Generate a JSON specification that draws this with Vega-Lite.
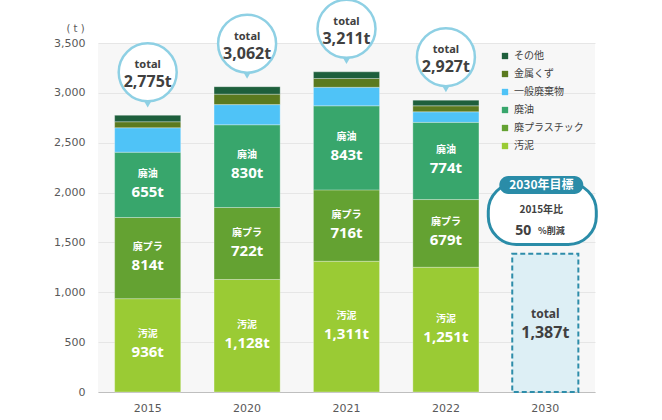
{
  "$schema": "https://vega.github.io/schema/vega-lite/v6.json",
  "autosize": {"type": "none"},
  "padding": {"left": 98, "top": 43, "right": 67, "bottom": 28},
  "width": 497,
  "height": 349,
  "background": "#ffffff",
  "view": {"fill": "#f7f7f7", "stroke": null},
  "config": {
    "font": "Noto Sans CJK JP",
    "axis": {"labelFont": "DejaVu Sans", "labelFontSize": 11, "labelColor": "#595959", "ticks": false}
  },
  "datasets": {
    "waste": [
      {"year": "2015", "cat": "汚泥", "v": 936, "lbl": "汚泥"},
      {"year": "2015", "cat": "廃プラスチック", "v": 814, "lbl": "廃プラ"},
      {"year": "2015", "cat": "廃油", "v": 655, "lbl": "廃油"},
      {"year": "2015", "cat": "一般廃棄物", "v": 245, "lbl": null},
      {"year": "2015", "cat": "金属くず", "v": 60, "lbl": null},
      {"year": "2015", "cat": "その他", "v": 65, "lbl": null},
      {"year": "2020", "cat": "汚泥", "v": 1128, "lbl": "汚泥"},
      {"year": "2020", "cat": "廃プラスチック", "v": 722, "lbl": "廃プラ"},
      {"year": "2020", "cat": "廃油", "v": 830, "lbl": "廃油"},
      {"year": "2020", "cat": "一般廃棄物", "v": 202, "lbl": null},
      {"year": "2020", "cat": "金属くず", "v": 105, "lbl": null},
      {"year": "2020", "cat": "その他", "v": 75, "lbl": null},
      {"year": "2021", "cat": "汚泥", "v": 1311, "lbl": "汚泥"},
      {"year": "2021", "cat": "廃プラスチック", "v": 716, "lbl": "廃プラ"},
      {"year": "2021", "cat": "廃油", "v": 843, "lbl": "廃油"},
      {"year": "2021", "cat": "一般廃棄物", "v": 186, "lbl": null},
      {"year": "2021", "cat": "金属くず", "v": 88, "lbl": null},
      {"year": "2021", "cat": "その他", "v": 67, "lbl": null},
      {"year": "2022", "cat": "汚泥", "v": 1251, "lbl": "汚泥"},
      {"year": "2022", "cat": "廃プラスチック", "v": 679, "lbl": "廃プラ"},
      {"year": "2022", "cat": "廃油", "v": 774, "lbl": "廃油"},
      {"year": "2022", "cat": "一般廃棄物", "v": 106, "lbl": null},
      {"year": "2022", "cat": "金属くず", "v": 60, "lbl": null},
      {"year": "2022", "cat": "その他", "v": 57, "lbl": null}
    ],
    "totals": [
      {"year": "2015", "total": 2775},
      {"year": "2020", "total": 3062},
      {"year": "2021", "total": 3211},
      {"year": "2022", "total": 2927}
    ],
    "target": [
      {"year": "2030", "total": 1387, "head": "2030年目標", "line1": "2015年比", "pct": "50", "unit": "%削減"}
    ]
  },
  "encoding": {
    "x": {
      "field": "year", "type": "nominal",
      "scale": {"domain": ["2015", "2020", "2021", "2022", "2030"], "paddingInner": 0.335, "paddingOuter": 0.1675},
      "axis": {"title": null, "labelAngle": 0, "labelPadding": 10, "domainColor": "#bfbfbf", "domainWidth": 1, "grid": false}
    }
  },
  "layer": [
    {
      "data": {"name": "waste"},
      "transform": [
        {"calculate": "indexof(['汚泥','廃プラスチック','廃油','一般廃棄物','金属くず','その他'], datum.cat)", "as": "o"},
        {"stack": "v", "groupby": ["year"], "sort": [{"field": "o", "order": "ascending"}], "as": ["y0", "y1"]}
      ],
      "mark": {"type": "bar", "stroke": "#ffffff", "strokeWidth": 0.6, "strokeOpacity": 0.5},
      "encoding": {
        "y": {
          "field": "y0", "type": "quantitative",
          "scale": {"domain": [0, 3500], "nice": false},
          "axis": {
            "values": [0, 500, 1000, 1500, 2000, 2500, 3000, 3500],
            "format": ",d",
            "domain": false,
            "labelPadding": 13,
            "gridColor": "#e6e6e6",
            "gridWidth": 1,
            "title": "( t )",
            "titleAngle": 0,
            "titleX": -23,
            "titleY": -15,
            "titleAlign": "center",
            "titleBaseline": "middle",
            "titleFont": "DejaVu Sans",
            "titleFontSize": 10,
            "titleFontWeight": "normal",
            "titleColor": "#595959"
          }
        },
        "y2": {"field": "y1"},
        "color": {
          "field": "cat", "type": "nominal",
          "scale": {
            "domain": ["その他", "金属くず", "一般廃棄物", "廃油", "廃プラスチック", "汚泥"],
            "range": ["#1e5f3c", "#5b7a1f", "#4fc3f7", "#38a66c", "#64a232", "#9acb34"]
          },
          "legend": {
            "title": null,
            "orient": "none",
            "legendX": 402,
            "legendY": 8,
            "symbolType": "square",
            "symbolSize": 40,
            "symbolStrokeWidth": 0,
            "labelFont": "Noto Sans CJK JP",
            "labelFontSize": 10,
            "labelColor": "#404040",
            "rowPadding": 8,
            "labelOffset": 4
          }
        }
      }
    },
    {
      "data": {"name": "waste"},
      "transform": [
        {"filter": "datum.lbl != null"},
        {"calculate": "indexof(['汚泥','廃プラスチック','廃油','一般廃棄物','金属くず','その他'], datum.cat)", "as": "o"},
        {"stack": "v", "groupby": ["year"], "sort": [{"field": "o", "order": "ascending"}], "as": ["y0", "y1"]},
        {"calculate": "(datum.y0 + datum.y1) / 2", "as": "mid"}
      ],
      "mark": {"type": "text", "dy": -11, "color": "#ffffff", "fontSize": 10, "fontWeight": "bold", "font": "Noto Sans CJK JP"},
      "encoding": {
        "y": {"field": "mid", "type": "quantitative"},
        "text": {"field": "lbl"}
      }
    },
    {
      "data": {"name": "waste"},
      "transform": [
        {"filter": "datum.lbl != null"},
        {"calculate": "indexof(['汚泥','廃プラスチック','廃油','一般廃棄物','金属くず','その他'], datum.cat)", "as": "o"},
        {"stack": "v", "groupby": ["year"], "sort": [{"field": "o", "order": "ascending"}], "as": ["y0", "y1"]},
        {"calculate": "(datum.y0 + datum.y1) / 2", "as": "mid"},
        {"calculate": "format(datum.v, ',') + 't'", "as": "vt"}
      ],
      "mark": {"type": "text", "dy": 7, "color": "#ffffff", "fontSize": 15, "fontWeight": "bold", "font": "Noto Sans"},
      "encoding": {
        "y": {"field": "mid", "type": "quantitative"},
        "text": {"field": "vt"}
      }
    },
    {
      "data": {"name": "target"},
      "mark": {"type": "bar", "fill": "#ddeff5", "stroke": "#2e8daa", "strokeWidth": 2, "strokeDash": [5, 3]},
      "encoding": {
        "y": {"field": "total", "type": "quantitative"},
        "y2": {"datum": 0}
      }
    },
    {
      "data": {"name": "target"},
      "transform": [{"calculate": "datum.total / 2", "as": "mid"}],
      "mark": {"type": "text", "dy": -9, "color": "#404040", "fontSize": 12, "fontWeight": "bold", "font": "Noto Sans", "text": "total"},
      "encoding": {"y": {"field": "mid", "type": "quantitative"}}
    },
    {
      "data": {"name": "target"},
      "transform": [
        {"calculate": "datum.total / 2", "as": "mid"},
        {"calculate": "format(datum.total, ',') + 't'", "as": "vt"}
      ],
      "mark": {"type": "text", "dy": 10, "color": "#404040", "fontSize": 16, "fontWeight": "bold", "font": "Noto Sans"},
      "encoding": {"y": {"field": "mid", "type": "quantitative"}, "text": {"field": "vt"}}
    },
    {
      "data": {"name": "totals"},
      "mark": {"type": "point", "shape": "triangle-down", "filled": true, "color": "#8ed0e4", "size": 90, "yOffset": -12, "opacity": 1},
      "encoding": {"y": {"field": "total", "type": "quantitative"}}
    },
    {
      "data": {"name": "totals"},
      "mark": {"type": "point", "shape": "circle", "filled": true, "fill": "#ffffff", "stroke": "#8ed0e4", "strokeWidth": 2.5, "size": 3364, "yOffset": -43, "opacity": 1},
      "encoding": {"y": {"field": "total", "type": "quantitative"}}
    },
    {
      "data": {"name": "totals"},
      "mark": {"type": "text", "dy": -50, "color": "#404040", "fontSize": 11, "fontWeight": "bold", "font": "Noto Sans", "text": "total"},
      "encoding": {"y": {"field": "total", "type": "quantitative"}}
    },
    {
      "data": {"name": "totals"},
      "transform": [{"calculate": "format(datum.total, ',') + 't'", "as": "vt"}],
      "mark": {"type": "text", "dy": -33, "color": "#404040", "fontSize": 16, "fontWeight": "bold", "font": "Noto Sans"},
      "encoding": {"y": {"field": "total", "type": "quantitative"}, "text": {"field": "vt"}}
    },
    {
      "data": {"name": "target"},
      "mark": {"type": "bar", "width": 108, "fill": "#ffffff", "stroke": "#2a8ca8", "strokeWidth": 3, "cornerRadius": 28, "xOffset": -3},
      "encoding": {"y": {"datum": 1480}, "y2": {"datum": 2095}}
    },
    {
      "data": {"name": "target"},
      "mark": {"type": "bar", "width": 84, "fill": "#2a8ca8", "cornerRadius": 9, "xOffset": -4},
      "encoding": {"y": {"datum": 1985}, "y2": {"datum": 2165}}
    },
    {
      "data": {"name": "target"},
      "mark": {"type": "text", "color": "#ffffff", "fontSize": 12, "fontWeight": "bold", "font": "Noto Sans CJK JP", "xOffset": -4},
      "encoding": {"y": {"datum": 2075}, "text": {"field": "head"}}
    },
    {
      "data": {"name": "target"},
      "mark": {"type": "text", "color": "#404040", "fontSize": 10, "fontWeight": "bold", "font": "Noto Sans CJK JP", "xOffset": -4},
      "encoding": {"y": {"datum": 1828}, "text": {"field": "line1"}}
    },
    {
      "data": {"name": "target"},
      "mark": {"type": "text", "color": "#404040", "fontSize": 14, "fontWeight": "bold", "font": "Noto Sans", "xOffset": -22},
      "encoding": {"y": {"datum": 1615}, "text": {"field": "pct"}}
    },
    {
      "data": {"name": "target"},
      "mark": {"type": "text", "color": "#404040", "fontSize": 9, "fontWeight": "bold", "font": "Noto Sans CJK JP", "xOffset": 6},
      "encoding": {"y": {"datum": 1613}, "text": {"field": "unit"}}
    }
  ]
}
